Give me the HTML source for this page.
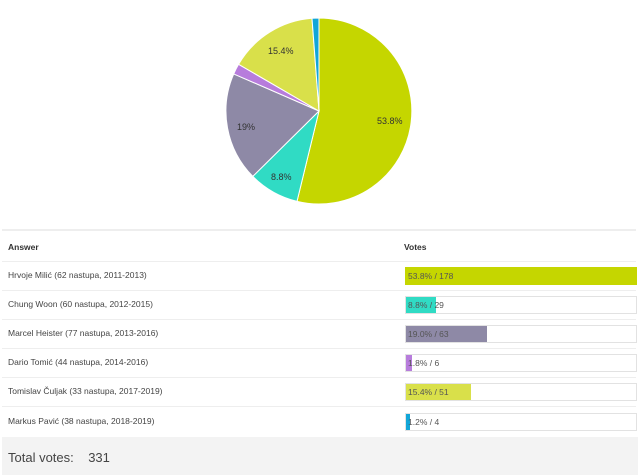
<!DOCTYPE html>
<html><head><meta charset="utf-8"><style>
body{margin:0;width:640px;height:475px;background:#fff;font-family:"Liberation Sans",sans-serif;position:relative;overflow:hidden;color:#444}
.a{position:absolute;font-size:8.5px;white-space:nowrap}
.sep{position:absolute;left:2px;width:634px;height:1px;background:#eee}
.bar{position:absolute;left:405px;width:230px;height:16px;border:1px solid #e2e2e2;background:#fff}
.bar div{position:absolute;left:0;top:0;height:16px}
.bar span{position:absolute;left:2px;top:3px;font-size:8.5px;color:#555}
</style></head><body>
<svg width="640" height="230" style="position:absolute;left:0;top:0" font-family="Liberation Sans" font-size="9" fill="#333">
<g stroke="#fff" stroke-width="1">
<path d="M319,111 L319,18 A93,93 0 1,1 297,201.4 Z" fill="#c5d600"/>
<path d="M319,111 L297,201.4 A93,93 0 0,1 252.8,176.4 Z" fill="#30dbc4"/>
<path d="M319,111 L252.8,176.4 A93,93 0 0,1 233.7,73.9 Z" fill="#8e89a6"/>
<path d="M319,111 L233.7,73.9 A93,93 0 0,1 238.6,64.3 Z" fill="#b77cdc"/>
<path d="M319,111 L238.6,64.3 A93,93 0 0,1 312,18.3 Z" fill="#d9e04a"/>
<path d="M319,111 L312,18.3 A93,93 0 0,1 319,18 Z" fill="#12a6d8"/>
</g>
<text x="377" y="124">53.8%</text>
<text x="271" y="180">8.8%</text>
<text x="237" y="130">19%</text>
<text x="268" y="54">15.4%</text>
</svg>
<div style="position:absolute;left:2px;top:229px;width:634px;height:2px;background:#eee"></div>
<div class="a" style="left:8px;top:242px;font-weight:bold;color:#333">Answer</div>
<div class="a" style="left:404px;top:242px;font-weight:bold;color:#333">Votes</div>
<div class="sep" style="top:261px"></div>
<div class="a" style="left:8px;top:270px">Hrvoje Milić (62 nastupa, 2011-2013)</div>
<div class="bar" style="top:267px;border-color:#c5d600"><div style="width:230px;background:#c5d600"></div><span>53.8% / 178</span></div>
<div class="sep" style="top:290px"></div>
<div class="a" style="left:8px;top:299px">Chung Woon (60 nastupa, 2012-2015)</div>
<div class="bar" style="top:296px"><div style="width:30px;background:#30dbc4"></div><span>8.8% / 29</span></div>
<div class="sep" style="top:319px"></div>
<div class="a" style="left:8px;top:328px">Marcel Heister (77 nastupa, 2013-2016)</div>
<div class="bar" style="top:325px"><div style="width:81px;background:#8e89a6"></div><span>19.0% / 63</span></div>
<div class="sep" style="top:348px"></div>
<div class="a" style="left:8px;top:357px">Dario Tomić (44 nastupa, 2014-2016)</div>
<div class="bar" style="top:354px"><div style="width:6px;background:#b77cdc"></div><span>1.8% / 6</span></div>
<div class="sep" style="top:377px"></div>
<div class="a" style="left:8px;top:386px">Tomislav Čuljak (33 nastupa, 2017-2019)</div>
<div class="bar" style="top:383px"><div style="width:65px;background:#d9e04a"></div><span>15.4% / 51</span></div>
<div class="sep" style="top:406px"></div>
<div class="a" style="left:8px;top:416px">Markus Pavić (38 nastupa, 2018-2019)</div>
<div class="bar" style="top:413px"><div style="width:4px;background:#12a6d8"></div><span>1.2% / 4</span></div>
<div style="position:absolute;left:2px;top:437px;width:636px;height:38px;background:#f3f3f3"></div>
<div style="position:absolute;left:8px;top:450px;font-size:13px;color:#444;white-space:nowrap">Total votes:&nbsp;&nbsp;&nbsp; 331</div>
</body></html>
